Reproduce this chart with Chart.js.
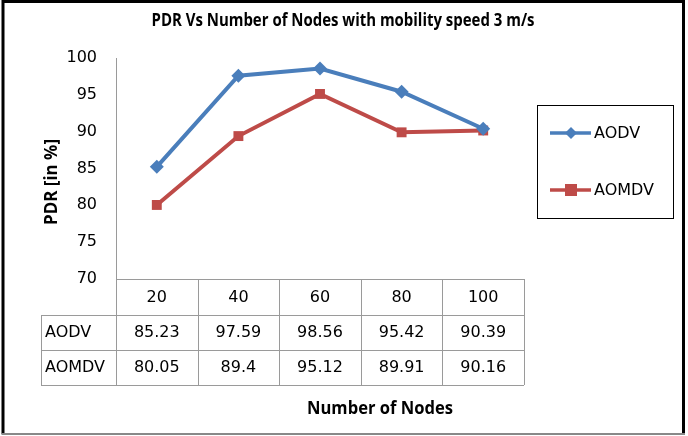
<!DOCTYPE html>
<html>
<head>
<meta charset="utf-8">
<script src="https://cdn.jsdelivr.net/npm/chart.js@4"></script>
<style>
  html, body { margin: 0; padding: 0; background: #fff; }
  #wrap { width: 688px; height: 436px; position: relative; }
</style>
</head>
<body>
<div id="wrap"><canvas id="pdrChart" width="688" height="436"></canvas></div>
<script>
// Chart data
const nodeCounts = ["20", "40", "60", "80", "100"];
const aodvPdr = [85.23, 97.59, 98.56, 95.42, 90.39];
const aomdvPdr = [80.05, 89.4, 95.12, 89.91, 90.16];
const tableAodv = ["85.23", "97.59", "98.56", "95.42", "90.39"];
const tableAomdv = ["80.05", "89.4", "95.12", "89.91", "90.16"];
const yTicks = [70, 75, 80, 85, 90, 95, 100];

const blue = "#4a7ebb";
const red = "#be4b48";
const gridGrey = "#9a9a9a";

// Fit a bold label into a given width
function fitText(ctx, text, cx, cy, width) {
  const w = ctx.measureText(text).width;
  const s = Math.min(1, width / w);
  ctx.save();
  ctx.translate(cx, cy);
  ctx.scale(s, 1);
  ctx.fillText(text, 0, 0);
  ctx.restore();
}

// Draws frame, title, axis titles, data table and legend
const decorPlugin = {
  id: "decor",
  afterDraw(chart) {
    const ctx = chart.ctx;
    const area = chart.chartArea;
    const x = chart.scales.x;

    ctx.save();
    // outer frame
    ctx.strokeStyle = "#000";
    ctx.lineWidth = 3;
    ctx.beginPath();
    ctx.moveTo(3, 434);
    ctx.lineTo(3, 1.5);
    ctx.lineTo(683.5, 1.5);
    ctx.lineTo(683.5, 434);
    ctx.stroke();
    ctx.strokeStyle = "#888";
    ctx.lineWidth = 2;
    ctx.beginPath();
    ctx.moveTo(1.5, 434);
    ctx.lineTo(685, 434);
    ctx.stroke();

    // title
    ctx.fillStyle = "#000";
    ctx.textAlign = "center";
    ctx.textBaseline = "middle";
    ctx.font = "bold 17px 'Liberation Sans Narrow', 'Open Sans'";
    fitText(ctx, "PDR Vs Number of Nodes with mobility speed 3 m/s", 343, 21, 383);

    // y axis title
    ctx.save();
    ctx.translate(52, 182);
    ctx.rotate(-Math.PI / 2);
    ctx.font = "bold 17px 'Liberation Sans Narrow', 'Open Sans'";
    fitText(ctx, "PDR [in %]", 0, 0, 86);
    ctx.restore();

    // x axis title
    ctx.font = "bold 17px 'Liberation Sans Narrow', 'Open Sans'";
    fitText(ctx, "Number of Nodes", 380, 409, 146);

    // data table
    const step = x.getPixelForValue(1) - x.getPixelForValue(0);
    const left = area.left;
    const right = area.right;
    const top = area.bottom;
    const rowH = 35;
    const r1 = top + rowH + 1;
    const r2 = r1 + rowH;
    const r3 = r2 + rowH;
    const labelLeft = 41;

    ctx.strokeStyle = gridGrey;
    ctx.lineWidth = 1;
    ctx.beginPath();
    ctx.moveTo(left, top + 0.5); ctx.lineTo(right, top + 0.5);
    ctx.moveTo(labelLeft, r1 + 0.5); ctx.lineTo(right, r1 + 0.5);
    ctx.moveTo(labelLeft, r2 + 0.5); ctx.lineTo(right, r2 + 0.5);
    ctx.moveTo(labelLeft, r3 + 0.5); ctx.lineTo(right, r3 + 0.5);
    ctx.moveTo(labelLeft + 0.5, r1); ctx.lineTo(labelLeft + 0.5, r3);
    for (let i = 0; i <= nodeCounts.length; i++) {
      const cx = Math.round(x.getPixelForValue(0) - step / 2 + i * step) + 0.5;
      ctx.moveTo(cx, top); ctx.lineTo(cx, r3);
    }
    ctx.stroke();

    ctx.font = "16px 'DejaVu Sans'";
    ctx.fillStyle = "#000";
    ctx.textAlign = "center";
    nodeCounts.forEach((v, i) => {
      const cx = x.getPixelForValue(i);
      ctx.fillText(v, cx, top + rowH / 2 + 1);
      ctx.fillText(tableAodv[i], cx, r1 + rowH / 2);
      ctx.fillText(tableAomdv[i], cx, r2 + rowH / 2);
    });
    ctx.textAlign = "left";
    ctx.fillText(chart.data.datasets[0].label, labelLeft + 4, r1 + rowH / 2);
    ctx.fillText(chart.data.datasets[1].label, labelLeft + 4, r2 + rowH / 2);

    // legend box
    ctx.strokeStyle = "#000";
    ctx.lineWidth = 1;
    ctx.strokeRect(537.5, 105.5, 136, 113);
    const entries = [
      { ds: chart.data.datasets[0], y: 133 },
      { ds: chart.data.datasets[1], y: 190 },
    ];
    entries.forEach((e) => {
      ctx.strokeStyle = e.ds.borderColor;
      ctx.lineWidth = 3.5;
      ctx.beginPath();
      ctx.moveTo(550, e.y);
      ctx.lineTo(591, e.y);
      ctx.stroke();
      ctx.fillStyle = e.ds.borderColor;
      if (e.ds.pointStyle === "rectRot") {
        ctx.beginPath();
        ctx.moveTo(571, e.y - 6);
        ctx.lineTo(577, e.y);
        ctx.lineTo(571, e.y + 6);
        ctx.lineTo(565, e.y);
        ctx.closePath();
        ctx.fill();
      } else {
        ctx.fillRect(565, e.y - 6, 12, 12);
      }
      ctx.fillStyle = "#000";
      ctx.font = "16px 'DejaVu Sans'";
      ctx.textAlign = "left";
      ctx.fillText(e.ds.label, 594, e.y + 1);
    });
    ctx.restore();
  },
};

const ctx = document.getElementById("pdrChart").getContext("2d");
const pdrChart = new Chart(ctx, {
  type: "line",
  data: {
    labels: nodeCounts,
    datasets: [
      {
        label: "AODV",
        data: aodvPdr,
        borderColor: blue,
        backgroundColor: blue,
        borderWidth: 4,
        pointStyle: "rectRot",
        pointRadius: 7,
        pointBorderWidth: 0,
        tension: 0,
      },
      {
        label: "AOMDV",
        data: aomdvPdr,
        borderColor: red,
        backgroundColor: red,
        borderWidth: 4,
        pointStyle: "rect",
        pointRadius: 7,
        pointBorderWidth: 0,
        tension: 0,
      },
    ],
  },
  options: {
    responsive: false,
    animation: false,
    layout: {
      padding: { left: 0, right: 164, top: 58, bottom: 157 },
    },
    plugins: {
      legend: { display: false },
      tooltip: { enabled: false },
      title: { display: false },
    },
    scales: {
      x: {
        display: false,
        offset: true,
      },
      y: {
        min: 70,
        max: 100,
        afterFit: function (scale) {
          scale.width = 116;
        },
        afterBuildTicks: function (scale) {
          scale.ticks = yTicks.map((v) => ({ value: v }));
        },
        grid: { display: false, drawTicks: false },
        border: { display: true, color: gridGrey, width: 1 },
        ticks: {
          padding: 19,
          color: "#000",
          font: { family: "DejaVu Sans", size: 16 },
        },
      },
    },
  },
  plugins: [decorPlugin],
});
</script>
</body>
</html>
